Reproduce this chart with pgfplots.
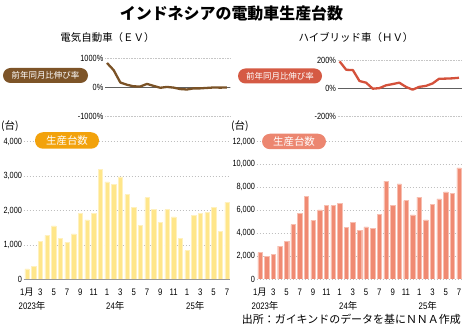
\documentclass[border=0pt]{standalone}
\usepackage{fontspec}
\setmainfont{Noto Sans CJK JP}
\newfontfamily\numfont[FakeStretch=0.82]{Liberation Sans}
\usepackage{pgfplots}
\usepackage{pgfplotstable}
\pgfplotsset{compat=1.18}
\definecolor{evbar}{HTML}{FFE68A}
\definecolor{hvbar}{HTML}{F08A72}
\definecolor{evline}{HTML}{7A5226}
\definecolor{hvline}{HTML}{D4513B}
\definecolor{evpill}{HTML}{F2A20C}
\definecolor{hvpill}{HTML}{EC8670}
\definecolor{evpilltop}{HTML}{7D5428}
\definecolor{hvpilltop}{HTML}{D55A44}

\pgfplotstableread{
x y
0 308
1 385
2 1105
3 1280
4 1558
5 1200
6 1077
7 1327
8 1923
9 1730
10 1923
11 3200
12 2836
13 2760
14 2980
15 2465
16 2096
17 1567
18 2375
19 2038
20 1654
21 2029
22 1817
23 1200
24 837
25 1856
26 1923
27 1942
28 2087
29 1394
30 2240
}\evprod

\pgfplotstableread{
x y
12 850
13 600
14 170
15 90
16 35
17 30
18 120
19 50
20 -15
21 15
22 -10
23 -60
24 -75
25 -35
26 -35
27 -20
28 -5
29 -10
30 -5
}\evyoy

\pgfplotstableread{
x y
0 2300
1 2000
2 2170
3 2880
4 3300
5 4750
6 5730
7 7200
8 5120
9 6030
10 6400
11 6400
12 6600
13 4500
14 4970
15 4240
16 4550
17 4450
18 5650
19 8550
20 6420
21 8300
22 6850
23 5600
24 7150
25 5150
26 6500
27 7000
28 7600
29 7480
30 9700
}\hvprod

\pgfplotstableread{
x y
12 190
13 130
14 128
15 50
16 38
17 -5
18 -1
19 19
20 28
21 38
22 8
23 -12
24 8
25 15
26 32
27 66
28 67
29 69
30 73
}\hvyoy

\pgfplotsset{
  base/.style={scale only axis, axis line style={draw=none}, tick style={draw=none},
    scaled y ticks=false, scaled x ticks=false,
    ymajorgrids, yticklabel style={font=\numfont\fontsize{9}{9}\selectfont, inner sep=1.5bp}},
  barax/.style={base, xmin=-0.5, xmax=30.5, ymin=0,
    major grid style={gray!50, line width=0.6bp, dash pattern=on 1.6bp off 1.4bp},
    xtick={0,2,...,30},
    xticklabels={1{\rmfamily 月},3,5,7,9,11,1,3,5,7,9,11,1,3,5,7},
    xticklabel style={font=\numfont\fontsize{9.5}{9.5}\selectfont, anchor=base, yshift=-16bp}},
  lineax/.style={base, xmin=11.7, xmax=30.5, xtick=\empty,
    major grid style={gray!45, line width=0.6bp, dash pattern=on 0.8bp off 0.8bp}},
}

\begin{document}
\begin{tikzpicture}
\path[use as bounding box] (0bp,0bp) rectangle (465bp,330bp);

% titles
\node[font=\bfseries\fontsize{16}{16}\selectfont] at (231.5bp,317bp) {インドネシアの電動車生産台数};
\node[font=\fontsize{10.5}{10.5}\selectfont] at (107.5bp,292.5bp) {電気自動車（ＥＶ）};
\node[font=\fontsize{10.5}{10.5}\selectfont] at (356bp,292.5bp) {ハイブリッド車（ＨＶ）};

% ---------- EV growth ----------
\begin{axis}[lineax, at={(105bp,214bp)}, anchor=south west, width=125.3bp, height=57.3bp,
  ymin=-1000, ymax=1000, ytick={-1000,0,1000}, yticklabels={-1000\%,0\%,1000\%}]
\draw[gray!75!black, line width=0.7bp] (rel axis cs:0,0.5) -- (rel axis cs:1,0.5);
\addplot[evline, line width=2.3bp, line join=round] table {\evyoy};
\end{axis}

% ---------- HV growth ----------
\begin{axis}[lineax, at={(337.6bp,214bp)}, anchor=south west, width=124.7bp, height=56bp,
  ymin=-200, ymax=200, ytick={-200,0,200}, yticklabels={-200\%,0\%,200\%}]
\draw[gray!75!black, line width=0.7bp] (rel axis cs:0,0.5) -- (rel axis cs:1,0.5);
\addplot[hvline, line width=2.3bp, line join=round] table {\hvyoy};
\end{axis}

% ---------- EV production ----------
\begin{axis}[barax, at={(23.7bp,50.5bp)}, anchor=south west, width=206.6bp, height=137.8bp,
  ymax=4000, ytick={0,1000,2000,3000,4000}, yticklabels={0,{1,000},{2,000},{3,000},{4,000}}]
\addplot[ybar, bar width=4.4bp, fill=evbar, draw=evbar!55!white, line width=0.4bp] table {\evprod};
\draw[gray!80, line width=0.8bp] (rel axis cs:0,0) -- (rel axis cs:1,0);
\end{axis}

% ---------- HV production ----------
\begin{axis}[barax, at={(256.7bp,51bp)}, anchor=south west, width=205.6bp, height=137.5bp,
  ymax=12000, ytick={0,2000,...,12000},
  yticklabels={0,{2,000},{4,000},{6,000},{8,000},{10,000},{12,000}}]
\addplot[ybar, bar width=4.4bp, fill=hvbar, draw=hvbar!55!white, line width=0.4bp] table {\hvprod};
\draw[gray!80, line width=0.8bp] (rel axis cs:0,0) -- (rel axis cs:1,0);
\end{axis}

% pills
\node[fill=evpilltop, rounded corners=7.5bp, minimum width=85bp, minimum height=15bp, inner sep=0pt,
  text=white, font=\fontsize{8.5}{8.5}\selectfont] at (45.5bp,254.5bp) {前年同月比伸び率};
\node[fill=hvpilltop, rounded corners=7.5bp, minimum width=84bp, minimum height=15bp, inner sep=0pt,
  text=white, font=\fontsize{8.5}{8.5}\selectfont] at (280bp,254bp) {前年同月比伸び率};
\node[fill=evpill, rounded corners=8bp, minimum width=64bp, minimum height=16.5bp, inner sep=0pt,
  text=white, font=\fontsize{10.5}{10.5}\selectfont] at (67bp,189.5bp) {生産台数};
\node[fill=hvpill, rounded corners=8bp, minimum width=64bp, minimum height=15.5bp, inner sep=0pt,
  text=white, font=\fontsize{10.5}{10.5}\selectfont] at (294bp,188.5bp) {生産台数};

% unit labels
\node[anchor=west, inner sep=0pt, font=\fontsize{10.5}{10.5}\selectfont] at (1bp,204bp) {(台)};
\node[anchor=west, inner sep=0pt, font=\fontsize{10.5}{10.5}\selectfont] at (231bp,204bp) {(台)};

% year labels
\node[anchor=base west, inner sep=0pt, font=\numfont\fontsize{9.5}{9.5}\selectfont] at (18.5bp,21bp) {2023{\rmfamily 年}};
\node[anchor=base west, inner sep=0pt, font=\numfont\fontsize{9.5}{9.5}\selectfont] at (106bp,21bp) {24{\rmfamily 年}};
\node[anchor=base west, inner sep=0pt, font=\numfont\fontsize{9.5}{9.5}\selectfont] at (186bp,21bp) {25{\rmfamily 年}};
\node[anchor=base west, inner sep=0pt, font=\numfont\fontsize{9.5}{9.5}\selectfont] at (251.5bp,21bp) {2023{\rmfamily 年}};
\node[anchor=base west, inner sep=0pt, font=\numfont\fontsize{9.5}{9.5}\selectfont] at (339bp,21bp) {24{\rmfamily 年}};
\node[anchor=base west, inner sep=0pt, font=\numfont\fontsize{9.5}{9.5}\selectfont] at (418.5bp,21bp) {25{\rmfamily 年}};

% source
\node[anchor=east, inner sep=0pt, font=\fontsize{11}{11}\selectfont] at (461bp,11bp) {出所：ガイキンドのデータを基にＮＮＡ作成};
\end{tikzpicture}
\end{document}
